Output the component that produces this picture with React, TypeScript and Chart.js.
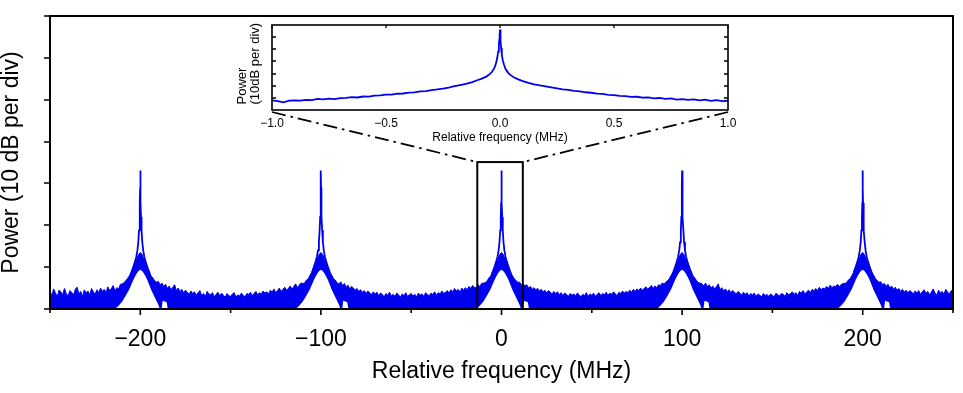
import React, { useEffect, useRef } from 'react';
import { Chart, registerables } from 'chart.js';

Chart.register(...registerables);

const FONT_FAMILY = '"Liberation Sans", Arial, Helvetica, sans-serif';
const BLUE = 'rgb(0, 0, 240)';

// ---------- main spectrum ----------
const MAIN_X_RANGE = [-250, 250];
const MAIN_Y_RANGE = [0, 70];
const MAIN_X_MAJOR = [-200, -100, 0, 100, 200];
const MAIN_X_MINOR = [-250, -150, -50, 50, 150, 250];
const MAIN_Y_TICKS = [0, 10, 20, 30, 40, 50, 60, 70];

const PEAK_CENTERS = [-200, -100, 0, 100, 200];
const PEAK_OFFSETS = [-5, -4, -3, -2.2, -1.6, -1.1, -0.7, -0.4, -0.2, -0.08, 0, 0.08, 0.2, 0.4, 0.7, 1.1, 1.6, 2.2, 3, 4, 5];
const PEAK_LEVELS = [8.6, 9.9, 11.2, 12.5, 14.0, 16.0, 18.8, 22.0, 25.3, 29.0, 33.1, 29.0, 25.3, 22.0, 18.8, 16.0, 14.0, 12.5, 11.2, 9.9, 8.6];

// noise floor upper envelope, read every 1 MHz from -250 MHz
const FLOOR_START = -250;
const FLOOR_STEP = 1;
const FLOOR_TOP = [
  4.3, 3.2, 4.8, 3.9, 2.9, 4.5, 4.1, 3.4, 4.9, 3.7,
  3.1, 4.4, 4.0, 3.3, 4.7, 5.2, 3.6, 4.2, 3.0, 4.6,
  3.8, 4.3, 3.4, 4.9, 4.1, 3.5, 4.6, 3.9, 5.0, 4.2,
  4.7, 3.9, 5.3, 4.4, 4.9, 5.6, 4.3, 5.1, 4.8, 5.9,
  6.0, 6.3, 6.8, 7.3, 8.0, 8.9, 9.8, 11.0, 11.9, 13.0,
  13.5, 13.0, 11.8, 11.0, 9.7, 9.0, 7.9, 7.4, 6.7, 6.4,
  6.6, 5.7, 6.2, 5.4, 5.9, 4.9, 5.5, 4.6, 5.2, 5.8,
  4.4, 5.0, 4.1, 4.7, 3.8, 4.5, 4.0, 3.5, 4.3, 3.7,
  4.1, 3.3, 3.9, 4.4, 3.2, 3.7, 3.0, 4.2, 3.6, 3.4,
  3.9, 2.9, 3.5, 4.0, 3.1, 3.8, 3.3, 2.8, 3.7, 3.2,
  3.0, 3.6, 3.9, 2.8, 3.4, 3.1, 3.8, 3.3, 2.9, 3.7,
  3.5, 4.0, 3.2, 3.7, 4.2, 3.4, 3.9, 3.6, 4.3, 3.8,
  4.1, 3.6, 4.5, 4.0, 4.8, 3.9, 4.4, 5.0, 4.2, 4.7,
  5.2, 4.5, 4.9, 5.5, 4.7, 5.4, 6.0, 5.1, 5.7, 6.2,
  6.1, 6.2, 6.9, 7.2, 8.1, 8.8, 9.9, 10.9, 12.0, 13.0,
  13.5, 13.0, 11.9, 10.9, 9.8, 8.8, 8.1, 7.2, 6.9, 6.2,
  6.0, 6.5, 5.6, 6.1, 5.2, 5.7, 4.8, 5.4, 5.0, 4.5,
  4.9, 4.2, 4.6, 4.0, 4.4, 3.7, 4.3, 3.9, 3.4, 4.1,
  3.6, 4.0, 3.2, 3.8, 3.5, 2.9, 3.7, 3.3, 4.0, 3.1,
  3.5, 3.0, 3.8, 3.4, 2.8, 3.6, 3.2, 3.9, 3.0, 3.4,
  3.7, 3.1, 3.5, 2.9, 3.8, 3.3, 3.6, 3.0, 3.9, 3.4,
  3.2, 3.8, 3.5, 4.1, 3.3, 3.9, 3.6, 4.3, 3.7, 4.0,
  4.4, 3.8, 4.6, 4.1, 4.9, 4.3, 4.7, 4.0, 5.0, 4.5,
  5.1, 4.6, 5.4, 4.9, 5.6, 5.2, 5.0, 5.8, 5.4, 6.1,
  6.2, 6.3, 6.7, 7.4, 7.9, 9.0, 9.7, 11.0, 11.8, 13.0,
  13.5, 13.0, 11.9, 10.8, 9.9, 8.9, 8.0, 7.3, 6.8, 6.4,
  6.4, 5.8, 6.0, 5.5, 5.8, 5.0, 5.4, 4.7, 5.1, 4.6,
  4.9, 4.3, 4.7, 4.1, 4.5, 3.8, 4.4, 4.0, 3.6, 4.2,
  3.7, 4.1, 3.4, 3.9, 3.2, 3.8, 3.5, 3.0, 3.7, 3.3,
  3.6, 3.1, 3.8, 3.4, 2.9, 3.5, 3.2, 3.9, 3.0, 3.6,
  3.3, 3.8, 3.0, 3.5, 3.9, 3.2, 3.7, 3.4, 4.0, 3.3,
  3.8, 3.5, 4.1, 3.6, 3.2, 4.0, 3.7, 4.3, 3.8, 4.2,
  3.9, 4.5, 4.0, 4.7, 4.2, 4.8, 4.4, 5.0, 4.5, 4.9,
  5.3, 4.7, 5.2, 5.6, 4.9, 5.5, 5.1, 5.8, 5.6, 6.2,
  6.0, 6.4, 6.8, 7.3, 8.1, 8.9, 9.8, 10.9, 11.9, 13.0,
  13.5, 13.0, 11.8, 10.9, 9.8, 9.0, 8.0, 7.4, 6.8, 6.3,
  6.2, 6.0, 5.5, 6.2, 5.3, 5.8, 5.0, 5.5, 4.8, 5.3,
  6.0, 4.6, 5.1, 4.3, 4.8, 4.1, 4.6, 3.9, 4.4, 4.0,
  3.6, 4.2, 3.8, 3.3, 4.0, 3.5, 3.9, 3.1, 3.7, 3.4,
  3.8, 3.0, 3.6, 3.3, 2.9, 3.7, 3.2, 3.5, 3.0, 3.6,
  3.3, 2.9, 3.8, 3.4, 3.1, 3.7, 3.5, 3.0, 3.9, 3.4,
  3.7, 4.1, 3.5, 3.9, 3.3, 4.2, 3.8, 4.4, 3.6, 4.1,
  4.5, 3.9, 4.7, 4.3, 4.9, 4.4, 5.2, 4.6, 5.0, 4.8,
  5.4, 4.9, 5.7, 5.1, 5.5, 5.3, 5.9, 5.4, 5.8, 6.1,
  6.1, 6.3, 6.9, 7.2, 8.0, 8.8, 9.9, 10.9, 12.0, 13.0,
  13.5, 13.0, 11.9, 11.0, 9.8, 8.9, 8.1, 7.3, 6.8, 6.4,
  6.5, 5.8, 6.1, 5.4, 5.9, 5.0, 5.5, 4.7, 5.2, 4.5,
  4.9, 4.2, 4.7, 4.0, 4.5, 3.8, 4.4, 4.1, 3.6, 4.3,
  3.8, 4.4, 3.5, 4.1, 4.6, 3.7, 4.2, 3.4, 4.0, 4.8,
  3.9, 3.3, 4.5, 3.8, 4.2, 3.5, 4.7, 4.0, 3.6, 4.4,
  4.1,
];
// lower edge of the noise band near each carrier (white gaps below the wings)
const FLOOR_LOW_OFFSETS = [-14, -12, -10, -8, -6, -4, -3, -2, -1, 0, 1, 2, 3, 4, 6, 8, 10, 10.8, 11.8, 12.4, 14.6, 15.2];
const FLOOR_LOW = [0, 0.8, 1.8, 3.2, 4.8, 6.8, 7.7, 8.5, 9.1, 9.4, 9.1, 8.5, 7.7, 6.8, 4.6, 2.8, 1.0, 0, 0, 2.0, 1.6, 0];

const ZOOM_BOX_X = [-13.4, 11.8];
const ZOOM_BOX_TOP = 35.1;

// ---------- inset ----------
const INSET_X_RANGE = [-1, 1];
const INSET_Y_RANGE = [0, 70];
const INSET_X_TICKS = [-1, -0.5, 0, 0.5, 1];
const INSET_Y_TICKS = [10, 20, 30, 40, 50, 60];
const INSET_FREQ = [
  -1.0, -0.975, -0.95, -0.925, -0.9, -0.875, -0.85, -0.825, -0.8, -0.775,
  -0.75, -0.725, -0.7, -0.675, -0.65, -0.625, -0.6, -0.575, -0.55, -0.525,
  -0.5, -0.475, -0.45, -0.425, -0.4, -0.375, -0.35, -0.325, -0.3, -0.275,
  -0.25, -0.225, -0.2, -0.175, -0.15, -0.125, -0.1, -0.08, -0.06, -0.045,
  -0.035, -0.025, -0.018, -0.012, -0.008, -0.005, -0.003, -0.0015, 0, 0.0015,
  0.003, 0.005, 0.008, 0.012, 0.018, 0.025, 0.035, 0.045, 0.06, 0.08,
  0.1, 0.125, 0.15, 0.175, 0.2, 0.225, 0.25, 0.275, 0.3, 0.325,
  0.35, 0.375, 0.4, 0.425, 0.45, 0.475, 0.5, 0.525, 0.55, 0.575,
  0.6, 0.625, 0.65, 0.675, 0.7, 0.725, 0.75, 0.775, 0.8, 0.825,
  0.85, 0.875, 0.9, 0.925, 0.95, 0.975, 1.0,
];
const INSET_POWER = [
  8.0, 7.4, 6.3, 7.8, 8.0, 7.7, 8.4, 8.2, 9.1, 8.8,
  9.4, 9.0, 9.8, 10.0, 10.6, 10.3, 11.1, 11.0, 11.9, 12.1,
  12.7, 12.6, 13.4, 13.6, 14.3, 14.5, 15.3, 15.6, 16.4, 16.9,
  17.6, 18.5, 19.6, 20.5, 21.5, 22.8, 24.5, 25.8, 27.5, 29.5,
  31.5, 34.5, 38.0, 43.0, 48.0, 53.5, 58.0, 62.5, 66.3, 62.0,
  57.0, 51.0, 45.5, 41.0, 37.0, 33.5, 30.8, 28.9, 27.0, 25.2,
  23.8, 22.4, 21.2, 20.2, 19.4, 18.6, 17.8, 17.0, 16.5, 15.8,
  15.4, 14.6, 14.2, 13.5, 13.2, 12.5, 12.3, 11.6, 11.5, 10.8,
  10.9, 10.2, 10.4, 9.6, 9.9, 9.1, 9.5, 8.6, 9.0, 8.3,
  8.8, 7.9, 8.5, 7.6, 8.2, 7.3, 7.6,
];

const fmtMain = (value: any) => {
  const v = Number(value);
  return v < 0 ? '\u2212' + Math.abs(v) : String(v);
};
const fmtInset = (value: any) => {
  const v = Number(value);
  return v < 0 ? '\u2212' + Math.abs(v).toFixed(1) : v.toFixed(1);
};

export default function App() {
  const mainRef = useRef<HTMLCanvasElement>(null);
  const insetRef = useRef<HTMLCanvasElement>(null);

  useEffect(() => {
    const peakData: any[] = [];
    PEAK_CENTERS.forEach((c, k) => {
      if (k > 0) peakData.push({ x: c - 50, y: null });
      PEAK_OFFSETS.forEach((o, j) => peakData.push({ x: c + o, y: PEAK_LEVELS[j] }));
    });
    const floorTop = FLOOR_TOP.map((v, i) => ({ x: FLOOR_START + i * FLOOR_STEP, y: v }));
    const floorLow: any[] = [{ x: MAIN_X_RANGE[0], y: 0 }];
    PEAK_CENTERS.forEach((c) => {
      FLOOR_LOW_OFFSETS.forEach((o, j) => floorLow.push({ x: c + o, y: FLOOR_LOW[j] }));
    });
    floorLow.push({ x: MAIN_X_RANGE[1], y: 0 });

    const mainDecor = {
      id: 'mainDecor',
      afterDatasetsDraw(chart: any) {
        const { ctx, chartArea: a, scales } = chart;
        const x = scales.x, y = scales.y;
        ctx.save();
        ctx.strokeStyle = '#000';
        ctx.lineWidth = 2;
        ctx.strokeRect(a.left, a.top, a.right - a.left, a.bottom - a.top);
        ctx.lineWidth = 1.6;
        ctx.beginPath();
        MAIN_Y_TICKS.forEach((v) => {
          const py = Math.round(y.getPixelForValue(v));
          ctx.moveTo(a.left - 6, py);
          ctx.lineTo(a.left, py);
        });
        MAIN_X_MAJOR.forEach((v) => {
          const px = x.getPixelForValue(v);
          ctx.moveTo(px, a.bottom);
          ctx.lineTo(px, a.bottom + 6);
        });
        MAIN_X_MINOR.forEach((v) => {
          const px = x.getPixelForValue(v);
          ctx.moveTo(px, a.bottom);
          ctx.lineTo(px, a.bottom + 4);
        });
        ctx.stroke();
        ctx.lineWidth = 2;
        const bx0 = x.getPixelForValue(ZOOM_BOX_X[0]);
        const bx1 = x.getPixelForValue(ZOOM_BOX_X[1]);
        const by = y.getPixelForValue(ZOOM_BOX_TOP);
        ctx.strokeRect(bx0, by, bx1 - bx0, a.bottom - by);
        ctx.restore();
      },
    };

    const main = new Chart(mainRef.current!, {
      type: 'line',
      data: {
        datasets: [
          { data: peakData, borderColor: BLUE, borderWidth: 1.8, pointRadius: 0, fill: false, spanGaps: false },
          { data: floorTop, borderColor: BLUE, borderWidth: 1, pointRadius: 0, fill: '+1', backgroundColor: BLUE },
          { data: floorLow, borderColor: 'rgba(0,0,0,0)', borderWidth: 0, pointRadius: 0, fill: false },
        ],
      },
      options: {
        responsive: false,
        animation: false,
        devicePixelRatio: 1,
        events: [],
        layout: { padding: { left: 0, top: 16, right: 10, bottom: 0 } },
        plugins: { legend: { display: false }, tooltip: { enabled: false } },
        scales: {
          x: {
            type: 'linear',
            min: MAIN_X_RANGE[0],
            max: MAIN_X_RANGE[1],
            afterBuildTicks: (s: any) => { s.ticks = MAIN_X_MAJOR.map((v) => ({ value: v })); },
            afterFit: (s: any) => { s.height = 84; },
            grid: { display: false },
            border: { display: false },
            ticks: {
              autoSkip: false, maxRotation: 0, padding: 9, color: '#000',
              font: { family: FONT_FAMILY, size: 23 }, callback: fmtMain,
            },
            title: {
              display: true, text: 'Relative frequency (MHz)', color: '#000',
              font: { family: FONT_FAMILY, size: 23, lineHeight: 1 }, padding: { top: 0, bottom: 9.5 },
            },
          },
          y: {
            type: 'linear',
            min: MAIN_Y_RANGE[0],
            max: MAIN_Y_RANGE[1],
            afterBuildTicks: (s: any) => { s.ticks = MAIN_Y_TICKS.map((v) => ({ value: v })); },
            afterFit: (s: any) => { s.width = 50; },
            grid: { display: false },
            border: { display: false },
            ticks: { display: false },
            title: {
              display: true, text: 'Power (10 dB per div)', color: '#000',
              font: { family: FONT_FAMILY, size: 23, lineHeight: 1 }, padding: { top: 0, bottom: 0 },
            },
          },
        },
      } as any,
      plugins: [mainDecor],
    });

    const insetDecor = {
      id: 'insetDecor',
      afterDraw(chart: any) {
        const { ctx, chartArea: a, scales } = chart;
        const x = scales.x, y = scales.y;
        ctx.save();
        ctx.strokeStyle = '#000';
        ctx.lineWidth = 1.6;
        ctx.strokeRect(a.left, a.top, a.right - a.left, a.bottom - a.top);
        ctx.lineWidth = 1.3;
        ctx.beginPath();
        INSET_Y_TICKS.forEach((v) => {
          const py = Math.round(y.getPixelForValue(v));
          ctx.moveTo(a.left, py); ctx.lineTo(a.left + 4, py);
          ctx.moveTo(a.right, py); ctx.lineTo(a.right - 4, py);
        });
        INSET_X_TICKS.forEach((v) => {
          const px = x.getPixelForValue(v);
          ctx.moveTo(px, a.top); ctx.lineTo(px, a.top + 3);
        });
        ctx.stroke();

        // two-line y title
        ctx.fillStyle = '#000';
        ctx.font = `13px ${FONT_FAMILY}`;
        ctx.textBaseline = 'middle';
        ctx.textAlign = 'left';
        [['Power', 242.5], ['(10dB per div)', 255.5]].forEach(([t, cx]: any) => {
          ctx.save();
          ctx.translate(cx, a.bottom - 5.5);
          ctx.rotate(-Math.PI / 2);
          ctx.fillText(t, 0, 0);
          ctx.restore();
        });

        // dash-dot connectors to the zoom box on the main chart
        const mx = main.scales.x, my = main.scales.y;
        const bx0 = mx.getPixelForValue(ZOOM_BOX_X[0]);
        const bx1 = mx.getPixelForValue(ZOOM_BOX_X[1]);
        const by = my.getPixelForValue(ZOOM_BOX_TOP);
        ctx.lineWidth = 1.8;
        ctx.setLineDash([14, 5, 2.5, 5]);
        ctx.beginPath();
        ctx.moveTo(a.left, a.bottom + 2); ctx.lineTo(bx0, by);
        ctx.moveTo(a.right, a.bottom + 2); ctx.lineTo(bx1, by);
        ctx.stroke();
        ctx.restore();
      },
    };

    const inset = new Chart(insetRef.current!, {
      type: 'line',
      data: {
        datasets: [{
          data: INSET_FREQ.map((f, i) => ({ x: f, y: INSET_POWER[i] })),
          borderColor: BLUE, borderWidth: 1.8, pointRadius: 0, fill: false,
        }],
      },
      options: {
        responsive: false,
        animation: false,
        devicePixelRatio: 1,
        events: [],
        layout: { padding: { left: 236, top: 25, right: 235, bottom: 243 } },
        plugins: { legend: { display: false }, tooltip: { enabled: false } },
        scales: {
          x: {
            type: 'linear',
            min: INSET_X_RANGE[0],
            max: INSET_X_RANGE[1],
            afterBuildTicks: (s: any) => { s.ticks = INSET_X_TICKS.map((v) => ({ value: v })); },
            afterFit: (s: any) => { s.height = 40; },
            grid: { display: false },
            border: { display: false },
            ticks: {
              autoSkip: false, maxRotation: 0, padding: -2, color: '#000',
              font: { family: FONT_FAMILY, size: 12 }, callback: fmtInset,
            },
            title: {
              display: true, text: 'Relative frequency (MHz)', color: '#000',
              font: { family: FONT_FAMILY, size: 12 }, padding: { top: 0, bottom: 5.5 },
            },
          },
          y: {
            type: 'linear',
            min: INSET_Y_RANGE[0],
            max: INSET_Y_RANGE[1],
            afterBuildTicks: (s: any) => { s.ticks = INSET_Y_TICKS.map((v) => ({ value: v })); },
            afterFit: (s: any) => { s.width = 36; },
            grid: { display: false },
            border: { display: false },
            ticks: { display: false },
            title: { display: false },
          },
        },
      } as any,
      plugins: [insetDecor],
    });

    return () => {
      inset.destroy();
      main.destroy();
    };
  }, []);

  return (
    <div style={{ position: 'fixed', left: 0, top: 0, width: 963, height: 393, background: '#fff' }}>
      <canvas ref={mainRef} width={963} height={393} style={{ position: 'absolute', left: 0, top: 0 }} />
      <canvas ref={insetRef} width={963} height={393} style={{ position: 'absolute', left: 0, top: 0 }} />
    </div>
  );
}
